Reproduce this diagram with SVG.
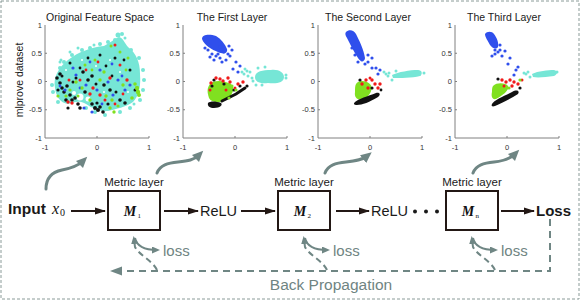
<svg xmlns="http://www.w3.org/2000/svg" xmlns:xlink="http://www.w3.org/1999/xlink" width="581" height="301" viewBox="0 0 581 301">
<style>
.t{font-family:"Liberation Sans",Arial,sans-serif;fill:#1a1a1a}
.tk{font-family:"Liberation Sans",Arial,sans-serif;font-size:7.5px;fill:#333}
.ttl{font-family:"Liberation Sans",Arial,sans-serif;font-size:10.5px;fill:#1a1a1a}
.gt{font-family:"Liberation Sans",Arial,sans-serif;fill:#6f8482}
.m{font-family:"Liberation Serif","Times New Roman",serif;font-weight:bold;font-style:italic;font-size:14px;fill:#111}
.ms{font-family:"Liberation Serif","Times New Roman",serif;font-size:7px;fill:#111}
.box{fill:#fff;stroke:#231815;stroke-width:2}
.ba{stroke:#231815;stroke-width:2;fill:none;marker-end:url(#ab)}
.ga{stroke:#6f8684;stroke-width:3;fill:none;stroke-linecap:round;marker-end:url(#ag)}
.gs{stroke:#6f8684;stroke-width:2;fill:none;marker-end:url(#as)}
.gd{stroke:#6f8684;stroke-width:2;fill:none;stroke-dasharray:6 4;marker-end:url(#as)}
.c{fill:#76e6d6}.b{fill:#2f4fec}.g{fill:#80e020}.r{fill:#f01a1a}.k{fill:#111}
</style>
<defs>
<marker id="ab" markerUnits="userSpaceOnUse" markerWidth="12" markerHeight="10" refX="10" refY="5" orient="auto"><path d="M0,1.5 L11,5 L0,8.5 Z" fill="#231815"/></marker>
<marker id="ag" markerUnits="userSpaceOnUse" markerWidth="12" markerHeight="12" refX="5" refY="5" orient="auto"><path d="M0,0 L11,5 L0,10 Z" fill="#6f8684"/></marker>
<marker id="as" markerUnits="userSpaceOnUse" markerWidth="10" markerHeight="8" refX="5" refY="3.5" orient="auto"><path d="M0,0 L8,3.5 L0,7 Z" fill="#6f8684"/></marker>
<marker id="abp" markerUnits="userSpaceOnUse" markerWidth="14" markerHeight="10" refX="2" refY="4.5" orient="auto"><path d="M0,0 L12,4.5 L0,9 Z" fill="#6f8684"/></marker>
<g id="axes">
<path d="M0,0 V113 H104" stroke="#808080" stroke-width="1" fill="none"/>
<path d="M0,28.25 h2 M0,56.5 h2 M0,84.75 h2 M52,113 v-2 M104,113 v-2" stroke="#808080" stroke-width="1"/>
<text class="tk" x="-3" y="2.5" text-anchor="end">1</text>
<text class="tk" x="-3" y="30.75" text-anchor="end">0.5</text>
<text class="tk" x="-3" y="59" text-anchor="end">0</text>
<text class="tk" x="-3" y="87.25" text-anchor="end">-0.5</text>
<text class="tk" x="-3" y="115.5" text-anchor="end">-1</text>
<text class="tk" x="0" y="124.5" text-anchor="middle">-1</text>
<text class="tk" x="52" y="124.5" text-anchor="middle">0</text>
<text class="tk" x="104" y="124.5" text-anchor="middle">1</text>
</g>
</defs>
<rect x="1" y="1" width="578" height="298" fill="#fff" stroke="#8a9b98" stroke-width="1" stroke-dasharray="3 2"/>

<g id="plot-original">
<text class="ttl" x="100" y="20.5" text-anchor="middle">Original Feature Space</text>
<text class="t" font-size="10.5" fill="#333" transform="translate(22.5,80) rotate(-90)" text-anchor="middle">mlprove dataset</text>
<use xlink:href="#axes" transform="translate(45,25)"/>
<path class="c" d="M55,88 C53,78 58,68 68,60 C78,52 92,47 104,46 C110,43 114,39 119,37 C123,38 124,42 128,47 C136,53 140,62 140,74 C141,86 139,96 133,102 C126,107 116,109 108,111 C100,112 92,108 86,104 C80,100 74,102 68,104 C60,103 56,96 55,88 Z"/>
<g class="c">
<circle cx="52" cy="85" r="2"/><circle cx="53" cy="92" r="2"/><circle cx="58" cy="102" r="2"/><circle cx="60" cy="68" r="2"/><circle cx="64" cy="62" r="2"/><circle cx="72" cy="55" r="2"/><circle cx="82" cy="50" r="2"/><circle cx="90" cy="48" r="2"/><circle cx="100" cy="44" r="2"/><circle cx="108" cy="42" r="2"/><circle cx="118" cy="35" r="2.5"/><circle cx="122" cy="34" r="2"/><circle cx="131" cy="50" r="2"/><circle cx="139" cy="58" r="2"/><circle cx="143" cy="70" r="2"/><circle cx="144" cy="80" r="2"/><circle cx="143" cy="90" r="2"/><circle cx="140" cy="100" r="2"/><circle cx="130" cy="108" r="2"/><circle cx="120" cy="112" r="2"/><circle cx="105" cy="115" r="2"/><circle cx="95" cy="112" r="2"/><circle cx="86" cy="108" r="2"/><circle cx="60" cy="62" r="1.5"/><circle cx="78" cy="48" r="1.5"/><circle cx="115" cy="40" r="2"/><circle cx="125" cy="38" r="1.5"/><circle cx="61" cy="60" r="1.5"/><circle cx="70" cy="52" r="1.5"/><circle cx="94" cy="45" r="1.5"/><circle cx="134" cy="104" r="1.5"/>
</g>
<g fill="#fff"><circle cx="80" cy="97" r="3.5"/><circle cx="88" cy="99" r="2.5"/><circle cx="74" cy="93" r="2"/><circle cx="66" cy="70" r="1"/><circle cx="96" cy="66" r="1"/><circle cx="120" cy="72" r="1"/><circle cx="110" cy="60" r="1"/><circle cx="82" cy="60" r="1"/><circle cx="128" cy="92" r="1"/><circle cx="104" cy="92" r="1"/></g>
<g class="k">
<circle cx="57" cy="78" r="1.8"/><circle cx="60" cy="83" r="1.8"/><circle cx="62" cy="88" r="1.8"/><circle cx="64" cy="92" r="1.8"/><circle cx="67" cy="86" r="1.8"/><circle cx="70" cy="95" r="1.8"/><circle cx="72" cy="100" r="1.8"/><circle cx="66" cy="100" r="1.8"/><circle cx="75" cy="98" r="1.8"/><circle cx="78" cy="104" r="1.8"/><circle cx="80" cy="108" r="1.8"/><circle cx="95" cy="108" r="2"/><circle cx="98" cy="110" r="2"/><circle cx="100" cy="107" r="1.8"/><circle cx="103" cy="112" r="1.8"/><circle cx="85" cy="92" r="1.8"/><circle cx="88" cy="80" r="1.8"/><circle cx="92" cy="76" r="1.8"/><circle cx="83" cy="72" r="1.8"/><circle cx="60" cy="74" r="1.8"/><circle cx="104" cy="85" r="1.8"/><circle cx="110" cy="90" r="1.8"/><circle cx="120" cy="100" r="1.8"/><circle cx="125" cy="103" r="1.8"/><circle cx="70" cy="63" r="1.5"/><circle cx="100" cy="55" r="1.5"/><circle cx="115" cy="58" r="1.5"/><circle cx="130" cy="70" r="1.5"/><circle cx="135" cy="90" r="1.5"/><circle cx="62" cy="76" r="1.5"/><circle cx="76" cy="78" r="1.5"/><circle cx="96" cy="84" r="1.5"/><circle cx="58" cy="90" r="1.6"/><circle cx="68" cy="108" r="1.6"/><circle cx="92" cy="104" r="1.8"/><circle cx="97" cy="103" r="1.6"/><circle cx="108" cy="104" r="1.6"/><circle cx="116" cy="92" r="1.5"/><circle cx="73" cy="82" r="1.5"/><circle cx="80" cy="68" r="1.4"/><circle cx="106" cy="66" r="1.4"/><circle cx="124" cy="60" r="1.4"/><circle cx="88" cy="58" r="1.4"/><circle cx="112" cy="76" r="1.4"/></g>
<g class="r">
<circle cx="68" cy="102" r="1.7"/><circle cx="72" cy="103" r="1.7"/><circle cx="90" cy="94" r="1.7"/><circle cx="93" cy="88" r="1.7"/><circle cx="110" cy="78" r="1.7"/><circle cx="120" cy="65" r="1.5"/><circle cx="127" cy="80" r="1.7"/><circle cx="100" cy="95" r="1.7"/><circle cx="115" cy="45" r="1.5"/><circle cx="80" cy="80" r="1.5"/><circle cx="105" cy="100" r="1.5"/><circle cx="69" cy="80" r="1.5"/><circle cx="86" cy="70" r="1.4"/><circle cx="98" cy="62" r="1.4"/><circle cx="123" cy="94" r="1.4"/><circle cx="115" cy="104" r="1.4"/></g>
<g class="b">
<circle cx="65" cy="90" r="1.6"/><circle cx="76" cy="75" r="1.6"/><circle cx="86" cy="85" r="1.6"/><circle cx="97" cy="90" r="1.6"/><circle cx="108" cy="82" r="1.6"/><circle cx="113" cy="95" r="1.6"/><circle cx="118" cy="80" r="1.6"/><circle cx="84" cy="108" r="1.6"/><circle cx="92" cy="112" r="1.6"/><circle cx="125" cy="90" r="1.6"/><circle cx="100" cy="70" r="1.6"/><circle cx="73" cy="68" r="1.6"/><circle cx="130" cy="85" r="1.6"/><circle cx="90" cy="62" r="1.4"/><circle cx="60" cy="86" r="1.4"/><circle cx="102" cy="104" r="1.4"/><circle cx="112" cy="64" r="1.4"/><circle cx="122" cy="76" r="1.4"/><circle cx="80" cy="88" r="1.4"/></g>
<g class="g">
<circle cx="76" cy="82" r="1.7"/><circle cx="82" cy="88" r="1.7"/><circle cx="100" cy="80" r="1.7"/><circle cx="106" cy="96" r="1.7"/><circle cx="112" cy="100" r="1.7"/><circle cx="137" cy="88" r="2.2"/><circle cx="138" cy="92" r="2.2"/><circle cx="135" cy="84" r="1.8"/><circle cx="95" cy="60" r="1.5"/><circle cx="85" cy="65" r="1.5"/><circle cx="120" cy="52" r="1.5"/><circle cx="128" cy="58" r="1.5"/><circle cx="104" cy="72" r="1.7"/><circle cx="70" cy="90" r="1.6"/><circle cx="90" cy="100" r="1.7"/><circle cx="110" cy="108" r="1.7"/><circle cx="114" cy="112" r="1.7"/><circle cx="58" cy="96" r="1.6"/><circle cx="66" cy="96" r="1.6"/><circle cx="132" cy="98" r="1.8"/><circle cx="139" cy="95" r="2"/><circle cx="123" cy="85" r="1.7"/><circle cx="111" cy="46" r="1.5"/><circle cx="78" cy="96" r="1.5"/><circle cx="118" cy="106" r="1.6"/><circle cx="126" cy="70" r="1.4"/><circle cx="92" cy="70" r="1.4"/></g>
</g>

<g id="plot-first">
<text class="ttl" x="232" y="20.5" text-anchor="middle">The First Layer</text>
<use xlink:href="#axes" transform="translate(183,25)"/>
<path class="b" d="M202,39 C202,34 210,34 216,36 C221,39 225,44 227,49 C228,53 224,55 218,52 C212,50 204,45 202,39 Z"/>
<g class="b">
<circle cx="208" cy="50" r="1.6"/><circle cx="212" cy="54" r="1.6"/><circle cx="216" cy="56" r="1.6"/><circle cx="220" cy="58" r="1.6"/><circle cx="224" cy="52" r="1.6"/><circle cx="228" cy="54" r="1.6"/><circle cx="226" cy="60" r="1.6"/><circle cx="230" cy="56" r="1.6"/><circle cx="232" cy="50" r="1.6"/><circle cx="236" cy="62" r="1.6"/><circle cx="240" cy="66" r="1.6"/><circle cx="238" cy="72" r="1.6"/><circle cx="233" cy="69" r="1.6"/><circle cx="214" cy="60" r="1.6"/><circle cx="210" cy="57" r="1.6"/><circle cx="205" cy="48" r="1.6"/><circle cx="220" cy="47" r="1.6"/><circle cx="229" cy="46" r="1.6"/><circle cx="222" cy="62" r="1.6"/><circle cx="218" cy="54" r="1.6"/>
</g>
<path class="c" d="M255,77 C255,71 263,70 271,70 C279,69 284,73 284,77 C284,83 276,84 268,83 C260,84 255,82 255,77 Z"/>
<g class="c">
<circle cx="250" cy="72" r="1.5"/><circle cx="247" cy="71" r="1.5"/><circle cx="252" cy="78" r="1.5"/><circle cx="248" cy="76" r="1.5"/><circle cx="244" cy="74" r="1.5"/><circle cx="256" cy="85" r="1.5"/><circle cx="262" cy="85" r="1.5"/><circle cx="258" cy="68" r="1.5"/><circle cx="265" cy="67" r="1.5"/><circle cx="245" cy="69" r="1.5"/><circle cx="242" cy="72" r="1.5"/><circle cx="286" cy="78" r="1.5"/><circle cx="286" cy="75" r="1.5"/><circle cx="253" cy="81" r="1.5"/>
</g>
<path class="g" d="M210,84 C213,80 223,80 231,84 C236,88 232,96 226,100 C220,103 211,103 209,98 C207,92 207,88 210,84 Z"/>
<path class="k" d="M208,103 C210,101 216,101 221,103 C223,105 220,108 214,108 C210,108 207,106 208,103 Z"/>
<path d="M222,101 L236,94 L245,88" stroke="#111" stroke-width="3" stroke-linecap="round" fill="none"/>
<g class="k"><circle cx="214" cy="80" r="1.6"/><circle cx="224" cy="84" r="1.6"/><circle cx="234" cy="90" r="1.6"/><circle cx="240" cy="86" r="1.6"/><circle cx="212" cy="86" r="1.6"/><circle cx="247" cy="86" r="1.6"/></g>
<g class="r"><circle cx="216" cy="78" r="1.7"/><circle cx="220" cy="79" r="1.7"/><circle cx="223" cy="81" r="1.7"/><circle cx="228" cy="78" r="1.7"/><circle cx="230" cy="82" r="1.7"/><circle cx="238" cy="84" r="1.7"/><circle cx="243" cy="82" r="1.7"/><circle cx="211" cy="83" r="1.7"/><circle cx="210" cy="90" r="1.5"/><circle cx="226" cy="90" r="1.5"/><circle cx="235" cy="88" r="1.5"/></g>
<g class="g"><circle cx="232" cy="86" r="1.6"/><circle cx="236" cy="90" r="1.6"/><circle cx="229" cy="98" r="1.6"/></g>
</g>

<g id="plot-second">
<text class="ttl" x="368" y="20.5" text-anchor="middle">The Second Layer</text>
<use xlink:href="#axes" transform="translate(318,25)"/>
<path class="b" d="M346,32 C349,29 354,30 356,34 C359,40 364,50 365,58 C365,62 360,62 358,58 C354,52 350,44 347,38 C345,35 345,33 346,32 Z"/>
<g class="b"><circle cx="362" cy="60" r="1.6"/><circle cx="365" cy="64" r="1.6"/><circle cx="368" cy="62" r="1.6"/><circle cx="372" cy="58" r="1.6"/><circle cx="376" cy="68" r="1.6"/><circle cx="380" cy="70" r="1.6"/><circle cx="372" cy="68" r="1.6"/><circle cx="360" cy="52" r="1.6"/><circle cx="355" cy="55" r="1.6"/><circle cx="368" cy="55" r="1.6"/><circle cx="352" cy="48" r="1.6"/><circle cx="378" cy="74" r="1.6"/><circle cx="358" cy="62" r="1.6"/></g>
<path class="c" d="M392,75 C398,72 410,70 418,70 C422,70 423,74 420,76 C412,78 400,78 393,78 Z"/>
<g class="c"><circle cx="389" cy="73" r="1.5"/><circle cx="386" cy="74" r="1.5"/><circle cx="384" cy="72" r="1.5"/><circle cx="392" cy="80" r="1.5"/><circle cx="396" cy="71" r="1.5"/><circle cx="424" cy="73" r="1.5"/><circle cx="388" cy="76" r="1.5"/></g>
<path class="g" d="M356,84 C358,80 366,80 370,84 C374,88 370,96 364,99 C358,101 354,98 355,92 C355,88 355,86 356,84 Z"/>
<path class="k" d="M355,102 C358,99 368,96 376,93 C380,92 381,95 378,97 C370,102 362,105 357,105 C354,105 353,104 355,102 Z"/>
<g class="k"><circle cx="360" cy="80" r="1.6"/><circle cx="372" cy="88" r="1.6"/><circle cx="381" cy="90" r="1.4"/></g>
<g class="r"><circle cx="366" cy="80" r="1.7"/><circle cx="372" cy="80" r="1.7"/><circle cx="375" cy="84" r="1.7"/><circle cx="380" cy="84" r="1.7"/><circle cx="378" cy="88" r="1.7"/><circle cx="368" cy="88" r="1.7"/><circle cx="362" cy="84" r="1.7"/><circle cx="370" cy="78" r="1.5"/></g>
</g>

<g id="plot-third">
<text class="ttl" x="504" y="20.5" text-anchor="middle">The Third Layer</text>
<use xlink:href="#axes" transform="translate(455,25)"/>
<path class="b" d="M485,34 C487,31 492,31 494,34 C497,38 499,43 498,47 C496,50 492,48 490,45 C488,41 485,37 485,34 Z"/>
<g class="b"><circle cx="495" cy="50" r="1.6"/><circle cx="498" cy="52" r="1.6"/><circle cx="500" cy="50" r="1.6"/><circle cx="505" cy="51" r="1.6"/><circle cx="502" cy="56" r="1.6"/><circle cx="492" cy="56" r="1.6"/><circle cx="495" cy="54" r="1.6"/><circle cx="508" cy="64" r="1.6"/><circle cx="516" cy="70" r="1.6"/><circle cx="518" cy="67" r="1.6"/><circle cx="514" cy="75" r="1.6"/><circle cx="510" cy="58" r="1.6"/><circle cx="500" cy="45" r="1.6"/></g>
<path class="c" d="M532,74 C538,71 548,70 554,70 C558,71 558,74 554,76 C546,77 538,78 533,77 Z"/>
<g class="c"><circle cx="528" cy="72" r="1.5"/><circle cx="526" cy="74" r="1.5"/><circle cx="530" cy="77" r="1.5"/><circle cx="524" cy="73" r="1.5"/><circle cx="557" cy="72" r="1.5"/></g>
<path class="g" d="M493,86 C497,82 506,83 508,86 C510,90 502,96 496,99 C492,100 491,96 492,92 C492,89 492,88 493,86 Z"/>
<path class="k" d="M492,104 C494,100 504,96 512,92 C517,89 520,91 518,94 C510,99 500,104 495,106 C492,107 491,106 492,104 Z"/>
<g class="k"><circle cx="498" cy="79" r="1.6"/><circle cx="520" cy="88" r="1.6"/></g>
<g class="r"><circle cx="502" cy="80" r="1.7"/><circle cx="506" cy="82" r="1.7"/><circle cx="510" cy="80" r="1.7"/><circle cx="514" cy="82" r="1.7"/><circle cx="518" cy="84" r="1.7"/><circle cx="522" cy="80" r="1.5"/><circle cx="512" cy="86" r="1.7"/><circle cx="504" cy="86" r="1.5"/></g>
<g class="g"><circle cx="520" cy="80" r="1.6"/><circle cx="509" cy="88" r="1.6"/></g>
</g>

<g id="input">
<text class="t" x="8" y="213.5" font-size="15.5" font-weight="bold">Input</text>
<text x="52" y="213.5" font-family="'Liberation Serif','Times New Roman',serif" font-style="italic" font-size="16" fill="#111">x</text>
<text x="60" y="215.5" font-family="'Liberation Serif','Times New Roman',serif" font-size="10" fill="#111">0</text>
</g>
<g id="m1">
<text class="t" x="134" y="186" font-size="11.5" text-anchor="middle">Metric layer</text>
<rect class="box" x="108" y="191" width="52" height="39"/>
<text class="m" x="130" y="215.5" text-anchor="middle">M</text>
<text class="ms" x="137.5" y="218">1</text>
</g>
<g id="relu1"><text class="t" x="200" y="216" font-size="14.5">ReLU</text></g>
<g id="m2">
<text class="t" x="304" y="186" font-size="11.5" text-anchor="middle">Metric layer</text>
<rect class="box" x="278" y="191" width="52" height="39"/>
<text class="m" x="300" y="215.5" text-anchor="middle">M</text>
<text class="ms" x="307.5" y="218">2</text>
</g>
<g id="relu2"><text class="t" x="371" y="216" font-size="14.5">ReLU</text></g>
<g id="ellipsis" fill="#1a1a1a"><circle cx="415" cy="211.5" r="2"/><circle cx="426" cy="211.5" r="2"/><circle cx="437" cy="211.5" r="2"/></g>
<g id="mn">
<text class="t" x="472" y="186" font-size="11.5" text-anchor="middle">Metric layer</text>
<rect class="box" x="446" y="191" width="52" height="39"/>
<text class="m" x="468" y="215.5" text-anchor="middle">M</text>
<text class="ms" x="475.5" y="218">n</text>
</g>
<g id="loss"><text class="t" x="536" y="216" font-size="15" font-weight="bold">Loss</text></g>
<g id="layer-losses">
<text class="gt" x="163" y="256" font-size="15">loss</text>
<text class="gt" x="333" y="256" font-size="15">loss</text>
<text class="gt" x="501" y="256" font-size="15">loss</text>
</g>
<g id="backprop-label"><text class="gt" x="331" y="290" font-size="15.5" text-anchor="middle" fill="#7d8f8c">Back Propagation</text></g>

<g id="connectors">
<line class="ba" x1="71" y1="211" x2="105" y2="211"/>
<line class="ba" x1="164" y1="211" x2="198" y2="211"/>
<line class="ba" x1="241" y1="211" x2="275" y2="211"/>
<line class="ba" x1="336" y1="211" x2="369" y2="211"/>
<line class="ba" x1="501" y1="211" x2="534" y2="211"/>
<path class="ga" d="M46,189 C46,178 52,172 62,170 C72,168 78,166 83,161"/>
<path class="ga" d="M157,173 C160,165 168,163 178,162 C188,161 194,160 199,155"/>
<path class="ga" d="M325,173 C328,165 336,163 346,162 C356,161 362,160 367,156"/>
<path class="ga" d="M473,173 C476,165 484,163 494,162 C504,161 510,159 515,154"/>
<path d="M550,219 V271 H120" stroke="#6f8684" stroke-width="2" fill="none" stroke-dasharray="7 5" marker-end="url(#abp)"/>
<path class="gs" d="M135,238 C137,247 146,250 157,250"/>
<path class="gd" d="M157,270 C152,260 140,256 135,247 L134,239"/>
<path class="gs" d="M305,238 C307,247 316,250 327,250"/>
<path class="gd" d="M327,270 C322,260 310,256 305,247 L304,239"/>
<path class="gs" d="M473,238 C475,247 484,250 495,250"/>
<path class="gd" d="M495,270 C490,260 478,256 473,247 L472,239"/>
</g>
</svg>
